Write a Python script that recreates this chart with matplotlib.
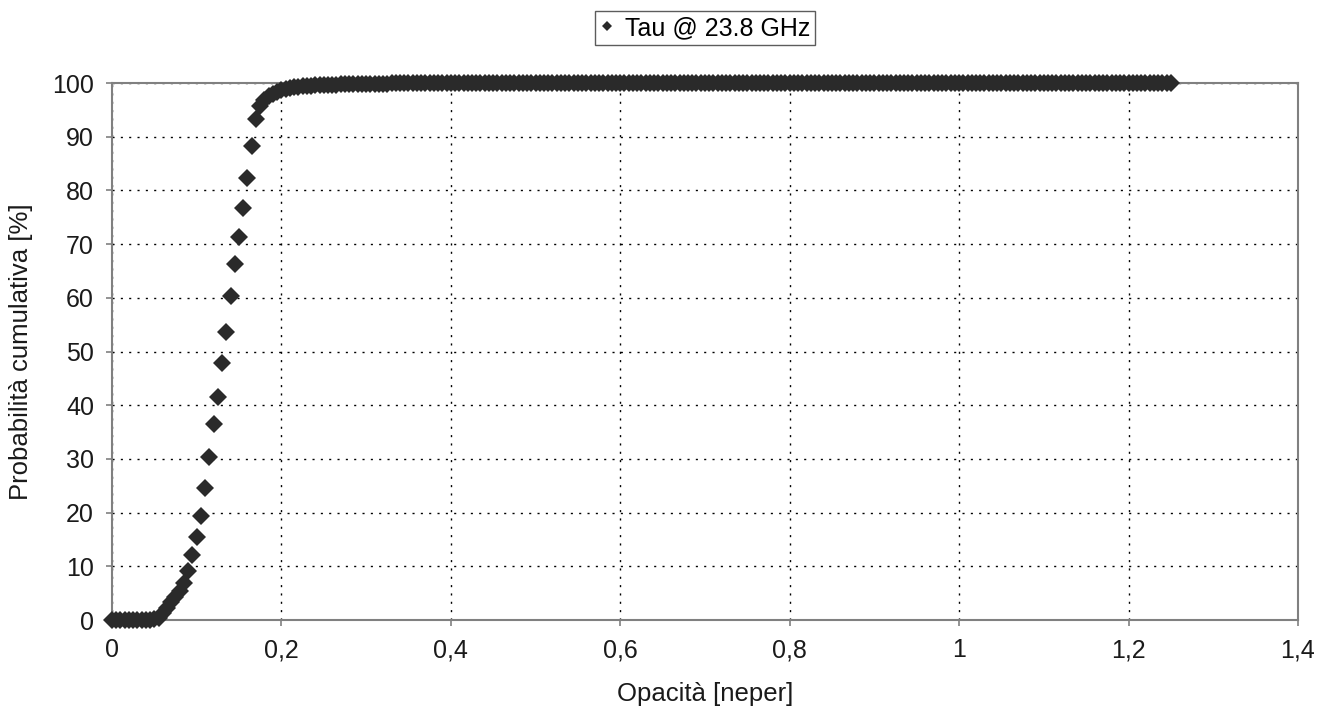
import numpy as np
import matplotlib
matplotlib.use("Agg")
import matplotlib.pyplot as plt
from matplotlib.ticker import FuncFormatter

plt.rcParams['font.family'] = ['Liberation Sans', 'DejaVu Sans']

# opacity [neper] vs cumulative probability [%] -- lower part and knee of the curve
tau = [0.000, 0.005, 0.010, 0.015, 0.020, 0.025, 0.030, 0.035, 0.040, 0.045,
       0.050, 0.055, 0.060, 0.065, 0.070, 0.075, 0.080, 0.085, 0.090, 0.095,
       0.100, 0.105, 0.110, 0.115, 0.120, 0.125, 0.130, 0.135, 0.140, 0.145,
       0.150, 0.155, 0.160, 0.165, 0.170, 0.175, 0.180, 0.185, 0.190, 0.195,
       0.200, 0.205, 0.210, 0.215, 0.220, 0.225, 0.230, 0.235, 0.240, 0.245,
       0.250, 0.260, 0.270, 0.280, 0.290, 0.300, 0.310, 0.320, 0.330, 0.340,
       0.350]
prob = [0.0, 0.0, 0.0, 0.0, 0.0, 0.0, 0.0, 0.0, 0.0, 0.0,
        0.1, 0.4, 1.3, 2.3, 3.3, 4.3, 5.4, 6.9, 9.1, 12.1,
        15.5, 19.4, 24.6, 30.4, 36.5, 41.6, 47.9, 53.6, 60.4, 66.3,
        71.4, 76.7, 82.4, 88.3, 93.3, 95.8, 96.8, 97.5, 98.0, 98.4,
        98.7, 98.9, 99.1, 99.2, 99.3, 99.4, 99.45, 99.5, 99.55, 99.6,
        99.65, 99.7, 99.75, 99.8, 99.82, 99.85, 99.88, 99.9, 99.92, 99.95,
        99.97]
# between the two the curve is sampled every 0.005 neper
tau_fill = [0.255, 0.265, 0.275, 0.285, 0.295, 0.305, 0.315, 0.325, 0.335, 0.345]
prob_fill = [99.68, 99.72, 99.78, 99.81, 99.84, 99.87, 99.89, 99.91, 99.94, 99.96]

# saturated tail: 100 % from 0.355 up to 1.25 neper, same sampling step
tail_start, tail_end, tail_step = 0.355, 1.25, 0.005
tail_prob = 100.0

label = "Tau @ 23.8 GHz"
xticks = [0, 0.2, 0.4, 0.6, 0.8, 1.0, 1.2, 1.4]
yticks = [0, 10, 20, 30, 40, 50, 60, 70, 80, 90, 100]

tau_tail = np.round(np.arange(tail_start, tail_end + 1e-9, tail_step), 3)
x = np.concatenate([tau, tau_fill, tau_tail])
y = np.concatenate([prob, prob_fill, np.full(len(tau_tail), tail_prob)])
order = np.argsort(x)
x, y = x[order], y[order]

fig = plt.figure(figsize=(13.36, 7.24), dpi=100)
ax = fig.add_axes([0.0838, 0.1436, 0.8877, 0.7417])

ax.plot(x, y, linestyle='none', marker='D', markersize=8.8,
        color='#2a2a2a', markeredgewidth=0, label=label, zorder=3, clip_on=False)

ax.set_xlim(0, 1.4)
ax.set_ylim(0, 100)
ax.set_xticks(xticks)
ax.set_yticks(yticks)
ax.xaxis.set_major_formatter(FuncFormatter(lambda v, p: ('%g' % v).replace('.', ',')))

ax.grid(True, color='black', linestyle=(0, (1.5, 4.5)), linewidth=1.0, zorder=1)
for s in ax.spines.values():
    s.set_color('#808080')
    s.set_linewidth(1.5)
ax.tick_params(axis='both', direction='out', length=4, width=1.2, color='#808080',
               labelsize=18, labelcolor='#1a1a1a', pad=9)

ax.set_xlabel("Opacità [neper]", fontsize=18.5, color='#1a1a1a', labelpad=14)
ax.set_ylabel("Probabilità cumulativa [%]", fontsize=18.5, color='#1a1a1a', labelpad=14)

leg = fig.legend(loc='center', bbox_to_anchor=(0.5277, 0.961), fontsize=18,
                 frameon=True, fancybox=False, shadow=False, markerscale=0.6,
                 handlelength=0.6, handletextpad=0.4, borderpad=0.2,
                 borderaxespad=0)
leg.get_frame().set_edgecolor('#333333')
leg.get_frame().set_linewidth(1.0)

fig.savefig("out.png", dpi=100, facecolor='white')
